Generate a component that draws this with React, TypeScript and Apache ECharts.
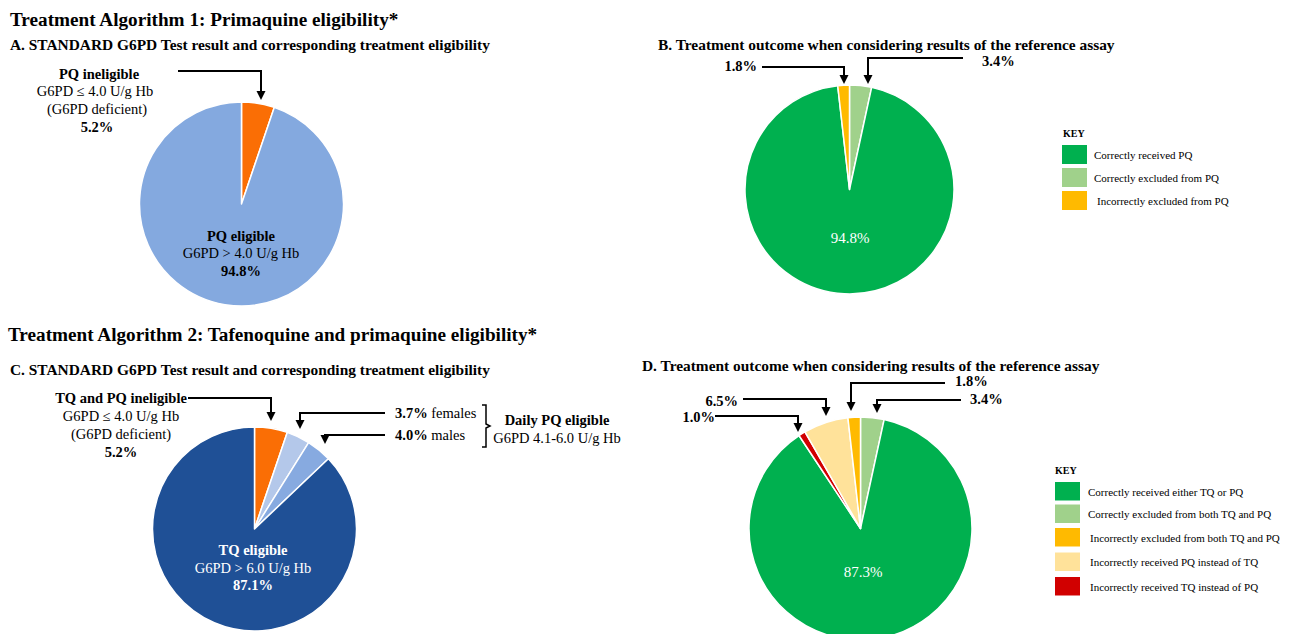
import React, { useEffect, useRef } from "react";
import * as echarts from "echarts";

// ---- data ----
const pieANames = ["PQ ineligible", "PQ eligible"];
const pieAValues = [5.2, 94.8];
const pieAColors = ["#FA6E05", "#84A9DF"];

const pieBNames = ["Correctly excluded from PQ", "Correctly received PQ", "Incorrectly excluded from PQ"];
const pieBValues = [3.4, 94.8, 1.8];
const pieBColors = ["#A0D18B", "#00B04F", "#FFBA00"];

const pieCNames = ["TQ and PQ ineligible", "Daily PQ eligible females", "Daily PQ eligible males", "TQ eligible"];
const pieCValues = [5.2, 3.7, 4.0, 87.1];
const pieCColors = ["#FA6E05", "#B4C8EA", "#87AAE0", "#1F5096"];

const pieDNames = [
  "Correctly excluded from both TQ and PQ",
  "Correctly received either TQ or PQ",
  "Incorrectly received TQ instead of PQ",
  "Incorrectly received PQ instead of TQ",
  "Incorrectly excluded from both TQ and PQ",
];
const pieDValues = [3.4, 87.3, 1.0, 6.5, 1.8];
const pieDColors = ["#A0D18B", "#00B04F", "#D10000", "#FFE29A", "#FFBA00"];

const keyBItems = ["Correctly received PQ", "Correctly excluded from PQ", "Incorrectly excluded from PQ"];
const keyBColors = ["#00B04F", "#A0D18B", "#FFBA00"];
const keyDItems = [
  "Correctly received either TQ or PQ",
  "Correctly excluded from both TQ and PQ",
  "Incorrectly excluded from both TQ and PQ",
  "Incorrectly received PQ instead of TQ",
  "Incorrectly received TQ instead of PQ",
];
const keyDColors = ["#00B04F", "#A0D18B", "#FFBA00", "#FFE29A", "#D10000"];

const FONT = '"Liberation Serif", "Times New Roman", serif';
const LS = 14.5; // label font size
const SS = 15.4; // subtitle font size
const TS = 19.2; // title font size

function txt(x: number, y: number, text: string, size: number, bold: boolean, align = "left", fill = "#000") {
  return {
    type: "text",
    x,
    y,
    z: 100,
    silent: true,
    style: {
      text,
      fontSize: size,
      fontWeight: bold ? "bold" : "normal",
      fontFamily: FONT,
      fill,
      textAlign: align,
      textVerticalAlign: "middle",
    },
  };
}

function richTxt(x: number, y: number, text: string) {
  return {
    type: "text",
    x,
    y,
    z: 100,
    silent: true,
    style: {
      text,
      fontSize: LS,
      fontFamily: FONT,
      fill: "#000",
      textVerticalAlign: "middle",
      rich: {
        b: { fontWeight: "bold", fontSize: LS, fontFamily: FONT, fill: "#000" },
        n: { fontWeight: "normal", fontSize: LS, fontFamily: FONT, fill: "#000" },
      },
    },
  };
}

function arrow(pts: number[][]) {
  const tip = pts[pts.length - 1];
  const linePts = pts.slice(0, -1).concat([[tip[0], tip[1] - 6]]);
  return [
    { type: "polyline", z: 100, silent: true, shape: { points: linePts }, style: { stroke: "#000", lineWidth: 2, fill: null } },
    {
      type: "polygon",
      z: 100,
      silent: true,
      shape: { points: [[tip[0], tip[1]], [tip[0] - 4.5, tip[1] - 9], [tip[0] + 4.5, tip[1] - 9]] },
      style: { fill: "#000" },
    },
  ];
}

function pie(names: string[], values: number[], colors: string[], center: number[], radius: number) {
  return {
    type: "pie",
    center,
    radius,
    startAngle: 90,
    clockwise: true,
    silent: true,
    z: 2,
    label: { show: false },
    labelLine: { show: false },
    itemStyle: { borderColor: "#fff", borderWidth: 1.5 },
    data: names.map((n, i) => ({ name: n, value: values[i], itemStyle: { color: colors[i] } })),
  };
}

export default function App() {
  const ref = useRef<HTMLDivElement>(null);
  useEffect(() => {
    document.body.style.margin = "0";
    const chart = echarts.init(ref.current!, null, { renderer: "svg" });
    const g: any[] = [];
    // titles
    g.push(txt(10, 19, "Treatment Algorithm 1: Primaquine eligibility*", TS, true));
    g.push(txt(10, 44, "A. STANDARD G6PD Test result and corresponding treatment eligibility", SS, true));
    g.push(txt(658, 44, "B. Treatment outcome when considering results of the reference assay", SS, true));
    g.push(txt(8, 334, "Treatment Algorithm 2: Tafenoquine and primaquine eligibility*", TS, true));
    g.push(txt(10, 369, "C. STANDARD G6PD Test result and corresponding treatment eligibility", SS, true));
    g.push(txt(642, 365, "D. Treatment outcome when considering results of the reference assay", SS, true));

    // A labels
    g.push(txt(99, 74, "PQ ineligible", LS, true, "center"));
    g.push(txt(95, 91, "G6PD ≤ 4.0 U/g Hb", LS, false, "center"));
    g.push(txt(97, 109, "(G6PD deficient)", LS, false, "center"));
    g.push(txt(97, 127, "5.2%", LS, true, "center"));
    g.push(...arrow([[178, 71], [261, 71], [261, 100]]));
    g.push(txt(241, 236, "PQ eligible", LS, true, "center"));
    g.push(txt(241, 253, "G6PD > 4.0 U/g Hb", LS, false, "center"));
    g.push(txt(241, 271, "94.8%", LS, true, "center"));

    // B labels
    g.push(txt(757, 66, "1.8%", LS, true, "right"));
    g.push(...arrow([[762, 67], [844, 67], [844, 84]]));
    g.push(txt(982, 61, "3.4%", LS, true, "left"));
    g.push(...arrow([[963, 58], [868, 58], [868, 84]]));
    g.push(txt(850, 238, "94.8%", 15, false, "center", "#fff"));

    // key B
    g.push(txt(1063, 133, "KEY", 10, true));
    keyBItems.forEach((t, i) => {
      const y = 145 + i * 23;
      g.push({ type: "rect", z: 100, silent: true, shape: { x: 1062, y, width: 25, height: 19 }, style: { fill: keyBColors[i] } });
      g.push(txt(i === 2 ? 1097 : 1094, y + 9.5, t, 11, false));
    });

    // C labels
    g.push(txt(121, 398, "TQ and PQ ineligible", LS, true, "center"));
    g.push(txt(121, 416, "G6PD ≤ 4.0 U/g Hb", LS, false, "center"));
    g.push(txt(121, 434, "(G6PD deficient)", LS, false, "center"));
    g.push(txt(121, 452, "5.2%", LS, true, "center"));
    g.push(...arrow([[188, 398], [271, 398], [271, 421]]));
    g.push(richTxt(395, 413, "{b|3.7%}{n| females}"));
    g.push(richTxt(395, 435, "{b|4.0%}{n| males}"));
    g.push(...arrow([[385, 413], [300, 413], [300, 429]]));
    g.push(...arrow([[385, 435], [325, 435], [325, 444]]));
    g.push({
      type: "polyline",
      z: 100,
      silent: true,
      shape: { points: [[482, 405], [486, 405], [486, 424], [490, 426], [486, 428], [486, 447], [482, 447]] },
      style: { stroke: "#000", lineWidth: 1.5, fill: null },
    });
    g.push(txt(557, 420, "Daily PQ eligible", LS, true, "center"));
    g.push(txt(557, 438, "G6PD 4.1-6.0 U/g Hb", LS, false, "center"));
    g.push(txt(253, 550, "TQ eligible", LS, true, "center", "#fff"));
    g.push(txt(253, 568, "G6PD > 6.0 U/g Hb", LS, false, "center", "#fff"));
    g.push(txt(253, 585, "87.1%", LS, true, "center", "#fff"));

    // D labels
    g.push(txt(738, 401, "6.5%", LS, true, "right"));
    g.push(...arrow([[743, 399], [826, 399], [826, 416]]));
    g.push(txt(715, 417, "1.0%", LS, true, "right"));
    g.push(...arrow([[715, 416], [798, 416], [798, 432]]));
    g.push(txt(955, 381, "1.8%", LS, true, "left"));
    g.push(...arrow([[945, 383], [851, 383], [851, 411]]));
    g.push(txt(970, 399, "3.4%", LS, true, "left"));
    g.push(...arrow([[961, 400], [877, 400], [877, 413]]));
    g.push(txt(863, 572, "87.3%", 15, false, "center", "#fff"));

    // key D
    g.push(txt(1055, 470, "KEY", 10, true));
    const rowsD = [482, 504.5, 528, 552.5, 577];
    keyDItems.forEach((t, i) => {
      const y = rowsD[i];
      g.push({ type: "rect", z: 100, silent: true, shape: { x: 1055, y, width: 25, height: 18.5 }, style: { fill: keyDColors[i] } });
      g.push(txt(i >= 2 ? 1090 : 1088, y + 9.5, t, 11, false));
    });

    chart.setOption({
      animation: false,
      backgroundColor: "#fff",
      series: [
        pie(pieANames, pieAValues, pieAColors, [241.5, 204], 102),
        pie(pieBNames, pieBValues, pieBColors, [849.5, 189.5], 104.5),
        pie(pieCNames, pieCValues, pieCColors, [254.5, 529], 102),
        pie(pieDNames, pieDValues, pieDColors, [860.5, 528.5], 111.5),
      ],
      graphic: { elements: g },
    });
    return () => chart.dispose();
  }, []);
  return <div ref={ref} style={{ width: 1293, height: 634 }} />;
}
